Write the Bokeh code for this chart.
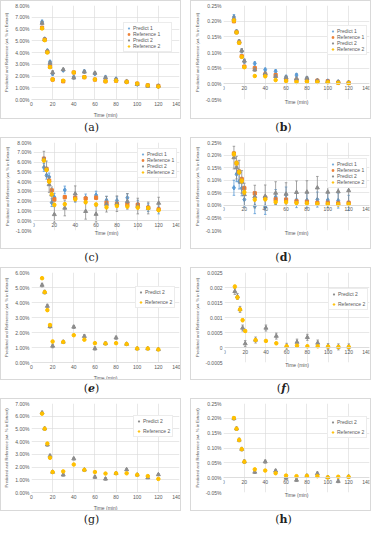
from bokeh.plotting import figure
from bokeh.models import Range1d, FixedTicker, PrintfTickFormatter, CustomJSTickFormatter, Title, Div
from bokeh.layouts import row, column
from bokeh.embed import file_html
from bokeh.resources import INLINE

# ---------------- data ----------------
time_min = [10, 12.5, 15, 17.5, 20, 30, 40, 50, 60, 70, 80, 90, 100, 110, 120]
x_ticks = [0, 20, 40, 60, 80, 100, 120, 140]
y_title = "Predicted and Reference (wt. % in Extract)"
x_title = "Time (min)"
panel_letters = ["a", "b", "c", "d", "e", "f", "g", "h"]

# (a) wt.% in extract
a_predict1 = [6.6, 5.15, 4.15, 3.2, 2.2, 2.5, 1.9, 2.4, 2.2, 1.9, 1.75, 1.5, 1.3, 1.2, 1.1]
a_reference1 = [6.1, 5.1, 4.05, 2.8, 1.7, 1.55, 2.3, 1.9, 1.7, 1.55, 1.6, 1.5, 1.35, 1.2, 1.15]
a_predict2 = [6.5, 5.1, 4.1, 3.1, 2.3, 2.55, 1.85, 2.35, 2.25, 1.85, 1.7, 1.55, 1.3, 1.15, 1.15]
a_reference2 = [6.05, 5.05, 4.0, 2.75, 1.7, 1.6, 2.3, 1.9, 1.7, 1.55, 1.6, 1.5, 1.35, 1.2, 1.1]
a_err_pred = [0.15, 0.12, 0.12, 0.12, 0.15, 0.1, 0.1, 0.1, 0.1, 0.1, 0.1, 0.08, 0.08, 0.08, 0.08]
a_err_ref = [0.1, 0.1, 0.1, 0.1, 0.1, 0.08, 0.08, 0.08, 0.08, 0.08, 0.08, 0.06, 0.06, 0.06, 0.06]

# (b)
b_predict1 = [0.213, 0.166, 0.133, 0.105, 0.072, 0.065, 0.045, 0.040, 0.022, 0.028, 0.018, 0.010, 0.009, 0.006, 0.004]
b_reference1 = [0.200, 0.165, 0.132, 0.088, 0.055, 0.050, 0.030, 0.028, 0.012, 0.012, 0.012, 0.010, 0.008, 0.004, 0.003]
b_predict2 = [0.208, 0.166, 0.135, 0.106, 0.073, 0.045, 0.033, 0.024, 0.020, 0.016, 0.018, 0.010, 0.008, 0.006, 0.004]
b_reference2 = [0.202, 0.164, 0.131, 0.086, 0.053, 0.025, 0.024, 0.012, 0.009, 0.006, 0.007, 0.006, 0.005, 0.003, 0.002]
b_err_pred = [0.008, 0.006, 0.006, 0.006, 0.006, 0.005, 0.005, 0.005, 0.005, 0.005, 0.005, 0.004, 0.004, 0.004, 0.004]
b_err_ref = [0.005, 0.004, 0.004, 0.004, 0.004, 0.003, 0.003, 0.003, 0.003, 0.003, 0.003, 0.003, 0.003, 0.003, 0.003]

# (c)
c_predict1 = [5.45, 4.65, 4.48, 1.85, 2.4, 3.14, 2.3, 2.33, 2.62, 2.1, 2.06, 2.35, 1.69, 1.34, 1.1]
c_reference1 = [6.34, 5.3, 4.1, 3.1, 2.18, 2.41, 2.35, 2.27, 2.35, 1.83, 1.72, 1.66, 1.63, 1.34, 1.16]
c_predict2 = [6.3, 5.3, 3.7, 2.65, 0.64, 1.3, 2.76, 0.96, 0.67, 1.69, 1.74, 1.98, 1.5, 1.3, 1.8]
c_reference2 = [6.16, 5.2, 4.0, 2.7, 1.63, 1.69, 2.2, 1.89, 1.66, 1.37, 1.51, 1.45, 1.34, 1.3, 1.08]
c_err_pred1 = [0.4, 0.4, 0.4, 0.4, 0.4, 0.4, 0.4, 0.4, 0.4, 0.4, 0.4, 0.4, 0.4, 0.4, 0.4]
c_err_pred2 = [0.8, 0.8, 0.8, 0.8, 0.8, 0.8, 0.8, 0.8, 0.8, 0.8, 0.8, 0.8, 0.8, 0.6, 0.6]
c_err_ref = [0.15, 0.15, 0.15, 0.15, 0.15, 0.15, 0.15, 0.15, 0.15, 0.15, 0.15, 0.15, 0.15, 0.15, 0.15]

# (d)
d_predict1 = [0.070, 0.124, 0.095, 0.068, 0.023, -0.003, -0.006, 0.033, 0.043, 0.021, 0.020, 0.023, 0.021, 0.019, 0.010]
d_reference1 = [0.206, 0.168, 0.134, 0.104, 0.068, 0.048, 0.030, 0.024, 0.023, 0.016, 0.014, 0.010, 0.010, 0.008, 0.010]
d_predict2 = [0.190, 0.150, 0.134, 0.093, 0.043, 0.035, 0.036, 0.049, 0.045, 0.052, 0.053, 0.070, 0.053, 0.055, 0.059]
d_reference2 = [0.204, 0.168, 0.132, 0.097, 0.052, 0.023, 0.024, 0.013, 0.013, 0.009, 0.008, 0.006, 0.005, 0.004, 0.005]
d_err_pred1 = [0.03, 0.03, 0.03, 0.03, 0.03, 0.03, 0.03, 0.03, 0.03, 0.03, 0.03, 0.03, 0.03, 0.03, 0.03]
d_err_pred2 = [0.045, 0.045, 0.045, 0.045, 0.045, 0.045, 0.045, 0.045, 0.045, 0.045, 0.045, 0.045, 0.045, 0.045, 0.045]
d_err_ref = [0.008, 0.008, 0.008, 0.008, 0.008, 0.006, 0.006, 0.006, 0.006, 0.006, 0.006, 0.006, 0.006, 0.006, 0.006]

# (e)
e_predict2 = [5.16, 4.69, 3.76, 2.41, 1.10, 1.37, 2.37, 1.75, 0.93, 1.27, 1.65, 1.23, 0.93, 0.93, 0.87]
e_reference2 = [5.62, 4.69, 3.49, 2.5, 1.40, 1.37, 1.82, 1.52, 1.29, 1.27, 1.29, 1.23, 0.93, 0.93, 0.87]
e_err_pred = [0.12, 0.12, 0.12, 0.12, 0.12, 0.1, 0.1, 0.1, 0.1, 0.1, 0.1, 0.08, 0.08, 0.08, 0.08]
e_err_ref = [0.08, 0.08, 0.08, 0.08, 0.08, 0.06, 0.06, 0.06, 0.06, 0.06, 0.06, 0.05, 0.05, 0.05, 0.05]

# (f)
f_predict2 = [0.00187, 0.00170, 0.00127, 0.00065, 0.00013, 0.00025, 0.00065, 0.00038, 0.00004, 0.00018, 0.00034, 0.00015, 0.00003, 0.00002, 0.00002]
f_reference2 = [0.00203, 0.00167, 0.00127, 0.00091, 0.00055, 0.00025, 0.00022, 0.00014, 0.00004, 0.00006, 0.00004, 0.00004, 0.00003, 0.00002, 0.00002]
f_err_pred = [0.0001, 0.0001, 0.0001, 0.0001, 0.0001, 0.0001, 0.0001, 0.0001, 0.0001, 0.0001, 0.0001, 0.0001, 0.0001, 0.0001, 0.0001]
f_err_ref = [0.00005, 0.00005, 0.00005, 0.00005, 0.00005, 0.00004, 0.00004, 0.00004, 0.00004, 0.00004, 0.00004, 0.00004, 0.00004, 0.00004, 0.00004]

# (g)
g_predict2 = [6.27, 5.02, 3.76, 2.88, 1.61, 1.39, 2.66, 1.78, 1.22, 1.07, 1.51, 1.80, 1.39, 1.17, 1.41]
g_reference2 = [6.2, 5.02, 3.85, 2.73, 1.61, 1.66, 2.2, 1.78, 1.61, 1.49, 1.51, 1.51, 1.39, 1.29, 1.07]
g_err_pred = [0.12, 0.12, 0.12, 0.12, 0.12, 0.1, 0.1, 0.1, 0.1, 0.1, 0.1, 0.08, 0.08, 0.08, 0.08]
g_err_ref = [0.08, 0.08, 0.08, 0.08, 0.08, 0.06, 0.06, 0.06, 0.06, 0.06, 0.06, 0.05, 0.05, 0.05, 0.05]

# (h)
h_predict2 = [0.200, 0.165, 0.127, 0.096, 0.054, 0.019, 0.054, 0.023, -0.001, -0.008, 0.006, 0.014, 0.001, -0.012, 0.003]
h_reference2 = [0.201, 0.165, 0.127, 0.096, 0.054, 0.028, 0.024, 0.015, 0.007, 0.005, 0.006, 0.005, 0.001, 0.003, 0.003]
h_err_pred = [0.006, 0.006, 0.006, 0.006, 0.006, 0.005, 0.005, 0.005, 0.005, 0.005, 0.005, 0.005, 0.005, 0.005, 0.005]
h_err_ref = [0.004, 0.004, 0.004, 0.004, 0.004, 0.003, 0.003, 0.003, 0.003, 0.003, 0.003, 0.003, 0.003, 0.003, 0.003]

# y-axis ticks
ticks_a = [0, 1, 2, 3, 4, 5, 6, 7, 8]
ticks_b = [-0.05, 0, 0.05, 0.10, 0.15, 0.20, 0.25]
ticks_c = [-1, 0, 1, 2, 3, 4, 5, 6, 7, 8]
ticks_d = [-0.10, -0.05, 0, 0.05, 0.10, 0.15, 0.20, 0.25]
ticks_e = [0, 1, 2, 3, 4, 5, 6]
ticks_f = [-0.0005, 0, 0.0005, 0.001, 0.0015, 0.002, 0.0025]
ticks_g = [0, 1, 2, 3, 4, 5, 6, 7]
ticks_h = [-0.05, 0, 0.05, 0.10, 0.15, 0.20, 0.25]

# ---------------- styling ----------------
COLORS = {"Predict 1": "#5B9BD5", "Reference 1": "#ED7D31", "Predict 2": "#8C8C8C", "Reference 2": "#FFC000"}
MARKERS = {"Predict 1": "diamond", "Reference 1": "square", "Predict 2": "triangle", "Reference 2": "circle"}
MSIZE = {"Predict 1": 4.5, "Reference 1": 3.2, "Predict 2": 4, "Reference 2": 3.5}
TXT = "#595959"
GRID = "#D9D9D9"
FONT = "Liberation Sans"
BOX_W = 181  # content width; +2 px border


def make_panel(series, y_rng, y_ticks, fmt, fig_h, legend_xy, legend_spacing, legend_lw,
               at_zero, min_bottom, title_standoff):
    p = figure(width=BOX_W, height=fig_h, x_range=Range1d(0, 140),
               y_range=Range1d(y_rng[0], y_rng[1]), output_backend="svg",
               toolbar_location=None, min_border_left=20, min_border_right=3,
               min_border_top=4, min_border_bottom=min_bottom, outline_line_color=None,
               background_fill_color="white", border_fill_color="white",
               styles={"border": "1px solid #D9D9D9"})
    for name, vals, errs in series:
        col = COLORS[name]
        lo = [v - e for v, e in zip(vals, errs)]
        hi = [v + e for v, e in zip(vals, errs)]
        p.segment(x0=time_min, y0=lo, x1=time_min, y1=hi, line_color=col, line_width=0.8)
        p.scatter(x=time_min, y=lo, marker="dash", size=2.5, line_color=col, line_width=0.8)
        p.scatter(x=time_min, y=hi, marker="dash", size=2.5, line_color=col, line_width=0.8)
        p.scatter(x=time_min, y=vals, marker=MARKERS[name], size=MSIZE[name],
                  fill_color=col, line_color=col, legend_label=name)
    # grids
    p.xgrid.ticker = FixedTicker(ticks=x_ticks)
    p.ygrid.ticker = FixedTicker(ticks=y_ticks)
    for g in (p.xgrid, p.ygrid):
        g.grid_line_color = GRID
        g.grid_line_width = 0.6
    # axes
    p.xaxis.ticker = FixedTicker(ticks=x_ticks)
    p.yaxis.ticker = FixedTicker(ticks=y_ticks)
    p.xaxis.axis_line_color = GRID
    p.xaxis.axis_line_width = 0.8
    p.yaxis.axis_line_color = None
    for ax in (p.xaxis, p.yaxis):
        ax.major_tick_line_color = None
        ax.minor_tick_line_color = None
        ax.major_tick_out = 0
        ax.major_tick_in = 0
        ax.minor_tick_out = 0
        ax.minor_tick_in = 0
        ax.major_label_text_font_size = "5px"
        ax.major_label_text_color = TXT
        ax.major_label_text_font = FONT
        ax.major_label_standoff = 2
    if at_zero:
        # horizontal axis crosses at zero: tick labels sit under the zero line
        p.xaxis.fixed_location = 0
    p.yaxis.axis_label = y_title
    p.yaxis.axis_label_text_font_size = "4.2px"
    p.yaxis.axis_label_text_font_style = "normal"
    p.yaxis.axis_label_text_color = TXT
    p.yaxis.axis_label_text_font = FONT
    p.yaxis.axis_label_standoff = 3
    if fmt == "pct":
        p.yaxis.formatter = PrintfTickFormatter(format="%.2f%%")
    else:
        p.yaxis.formatter = CustomJSTickFormatter(code="return String(Math.round(tick*1e4)/1e4)")
    p.add_layout(Title(text=x_title, align="center", text_font_size="5px",
                       text_font_style="normal", text_color=TXT, text_font=FONT,
                       standoff=title_standoff), "below")
    lg = p.legend[0]
    lg.location = legend_xy
    lg.label_text_font_size = "5px"
    lg.label_text_color = TXT
    lg.label_text_font = FONT
    lg.label_height = 4
    lg.label_width = legend_lw
    lg.glyph_height = 4
    lg.glyph_width = 5
    lg.label_standoff = 2
    lg.spacing = legend_spacing
    lg.padding = 2
    lg.margin = 0
    lg.border_line_color = GRID
    lg.border_line_width = 0.8
    lg.background_fill_alpha = 1
    return p


pa = make_panel([("Predict 1", a_predict1, a_err_pred), ("Reference 1", a_reference1, a_err_ref),
                 ("Predict 2", a_predict2, a_err_pred), ("Reference 2", a_reference2, a_err_ref)],
                (0, 8), ticks_a, "pct", 119, (92, 47), 0, 36, False, 20, 2)
pb = make_panel([("Predict 1", b_predict1, b_err_pred), ("Reference 1", b_reference1, b_err_ref),
                 ("Predict 2", b_predict2, b_err_pred), ("Reference 2", b_reference2, b_err_ref)],
                (-0.05, 0.25), ticks_b, "pct", 119, (104, 44), 0, 22, True, 21, -5)
pc = make_panel([("Predict 1", c_predict1, c_err_pred1), ("Reference 1", c_reference1, c_err_ref),
                 ("Predict 2", c_predict2, c_err_pred2), ("Reference 2", c_reference2, c_err_ref)],
                (-1, 8), ticks_c, "pct", 112, (104, 52), 0, 22, True, 10, -6)
pd_ = make_panel([("Predict 1", d_predict1, d_err_pred1), ("Reference 1", d_reference1, d_err_ref),
                  ("Predict 2", d_predict2, d_err_pred2), ("Reference 2", d_reference2, d_err_ref)],
                 (-0.10, 0.25), ticks_d, "pct", 112, (104, 42), 0, 22, True, 20, -5)
pe = make_panel([("Predict 2", e_predict2, e_err_pred), ("Reference 2", e_reference2, e_err_ref)],
                (0, 6), ticks_e, "pct", 113, (104, 54), 4, 22, False, 19, 2)
pf = make_panel([("Predict 2", f_predict2, f_err_pred), ("Reference 2", f_reference2, f_err_ref)],
                (-0.0005, 0.0025), ticks_f, "num", 113, (104, 52), 4, 22, True, 19, -5)
pg = make_panel([("Predict 2", g_predict2, g_err_pred), ("Reference 2", g_reference2, g_err_ref)],
                (0, 7), ticks_g, "pct", 113, (102, 55), 4, 22, False, 20, 2)
ph = make_panel([("Predict 2", h_predict2, h_err_pred), ("Reference 2", h_reference2, h_err_ref)],
                (-0.05, 0.25), ticks_h, "pct", 113, (104, 54), 4, 22, True, 20, -5)

LABEL_STYLE = {"a": "normal", "b": "bold", "c": "normal", "d": "bold",
               "e": "bolditalic", "f": "bolditalic", "g": "normal", "h": "bold"}


def label_div(letter, h):
    s = LABEL_STYLE[letter]
    inner = letter
    if "bold" in s:
        inner = "<b>" + inner + "</b>"
    if "italic" in s:
        inner = "<i>" + inner + "</i>"
    html = ('<div style="width:' + str(BOX_W + 2) + 'px;text-align:center;font-family:\'DejaVu Serif\';'
            'font-size:11px;color:#222;line-height:' + str(h) + 'px;">(' + inner + ')</div>')
    return Div(text=html, width=BOX_W + 2, height=h, margin=0)


rows = []
pairs = [(pa, pb), (pc, pd_), (pe, pf), (pg, ph)]
label_h = [18, 18, 18, 15]
for i, (l, r) in enumerate(pairs):
    rows.append(row(l, r, spacing=9))
    rows.append(row(label_div(panel_letters[2 * i], label_h[i]),
                    label_div(panel_letters[2 * i + 1], label_h[i]), spacing=9))

layout = column(*rows, spacing=0)

open("out.html", "w").write(file_html(layout, INLINE))
